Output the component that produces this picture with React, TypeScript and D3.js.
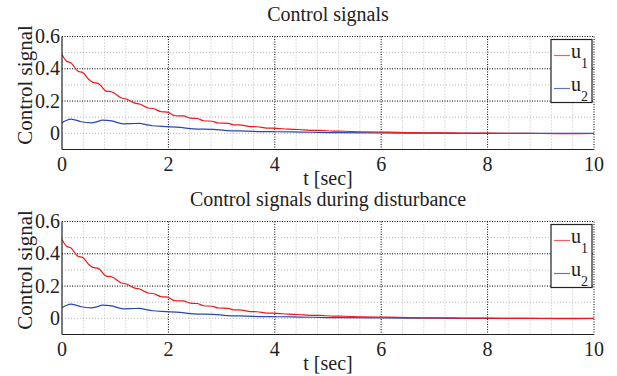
import React, { useEffect, useRef } from "react";
import * as d3 from "d3";

// values (t in sec)
const u1T = [0, 0.08, 0.17, 0.3, 0.39, 0.5, 0.58, 0.68, 0.83, 0.93, 1.12, 1.21, 1.37, 1.46, 1.62, 1.71, 1.87, 1.98, 2.13, 2.28, 2.41, 2.54, 2.66, 2.82, 2.94, 3.13, 3.22, 3.38, 3.54, 3.66, 3.85, 4.04, 4.25, 4.45, 4.65, 4.85, 5.1, 5.3, 5.6, 6.0, 6.5, 7.0, 7.5, 8.0, 8.5, 9.0, 9.5, 10];
const u1V = [0.488, 0.448, 0.436, 0.385, 0.377, 0.335, 0.316, 0.31, 0.262, 0.258, 0.219, 0.213, 0.187, 0.182, 0.157, 0.154, 0.134, 0.131, 0.109, 0.108, 0.094, 0.092, 0.078, 0.075, 0.064, 0.062, 0.053, 0.051, 0.042, 0.041, 0.033, 0.031, 0.026, 0.024, 0.019, 0.018, 0.014, 0.013, 0.01, 0.008, 0.005, 0.003, 0.002, 0.001, 0.0, -0.001, -0.002, -0.001];
const u2T = [0, 0.08, 0.17, 0.26, 0.36, 0.55, 0.65, 0.76, 0.93, 1.05, 1.15, 1.3, 1.46, 1.58, 1.7, 1.96, 2.22, 2.47, 2.85, 3.1, 3.47, 3.75, 4.04, 4.5, 5, 6, 7, 8, 9, 10];
const u2V = [0.066, 0.08, 0.088, 0.082, 0.072, 0.065, 0.071, 0.082, 0.077, 0.066, 0.059, 0.06, 0.062, 0.054, 0.047, 0.042, 0.037, 0.028, 0.025, 0.017, 0.014, 0.011, 0.01, 0.008, 0.005, 0.003, 0.001, 0.0, 0.0, 0.0];

const xTicks = [0, 2, 4, 6, 8, 10];
const yTicks = [0, 0.2, 0.4, 0.6];
const titles = ["Control signals", "Control signals during disturbance"];

const W = 617, H = 376;
const FONT = "'Liberation Serif', 'Times New Roman', serif";

const App = () => {
  const ref = useRef(null);

  useEffect(() => {
    const svg = d3.select(ref.current);
    svg.selectAll("*").remove();

    const x = d3.scaleLinear().domain([0, 10]).range([62, 594]);

    const draw = (title: string, top: number) => {
      const y = d3.scaleLinear().domain([-0.1, 0.6]).range([top + 113, top]);
      const g = svg.append("g");

      // minor grid
      const minorX = d3.range(0, 10.001, 0.4).filter((d) => Math.abs(d / 2 - Math.round(d / 2)) > 0.01);
      const minorY = [0, 0.1, 0.3, 0.5];
      g.selectAll(".mx")
        .data(minorX)
        .join("line")
        .attr("x1", (d) => x(d)).attr("x2", (d) => x(d))
        .attr("y1", y(0.6)).attr("y2", y(-0.1))
        .style("stroke", "#bbb").style("stroke-width", 1).style("stroke-dasharray", "1,2");
      g.selectAll(".my")
        .data(minorY)
        .join("line")
        .attr("x1", x(0)).attr("x2", x(10))
        .attr("y1", (d) => y(d)).attr("y2", (d) => y(d))
        .style("stroke", "#bbb").style("stroke-width", 1).style("stroke-dasharray", "1,2");

      // major grid
      g.selectAll(".gx")
        .data(xTicks.slice(1))
        .join("line")
        .attr("x1", (d) => x(d)).attr("x2", (d) => x(d))
        .attr("y1", y(0.6)).attr("y2", y(-0.1))
        .style("stroke", "#000").style("stroke-width", 1).style("stroke-dasharray", "1,1.5");
      g.selectAll(".gy")
        .data(yTicks.slice(1))
        .join("line")
        .attr("x1", x(0)).attr("x2", x(10))
        .attr("y1", (d) => y(d)).attr("y2", (d) => y(d))
        .style("stroke", "#000").style("stroke-width", 1).style("stroke-dasharray", "1,1.5");

      // lines
      const line = d3.line<[number, number]>()
        .x((d) => x(d[0]))
        .y((d) => y(d[1]))
        .curve(d3.curveMonotoneX);
      g.append("path")
        .attr("d", line(u2T.map((t, i) => [t, u2V[i]])))
        .style("fill", "none").style("stroke", "#2848b0").style("stroke-width", 1.2);
      g.append("path")
        .attr("d", line(u1T.map((t, i) => [t, u1V[i]])))
        .style("fill", "none").style("stroke", "#f01818").style("stroke-width", 1.2);

      // axes
      g.append("line")
        .attr("x1", x(0)).attr("x2", x(0)).attr("y1", y(0.6)).attr("y2", y(-0.1))
        .style("stroke", "#222").style("stroke-width", 1.2);
      g.append("line")
        .attr("x1", x(0)).attr("x2", x(10)).attr("y1", y(-0.1)).attr("y2", y(-0.1))
        .style("stroke", "#222").style("stroke-width", 1.2);

      const text = (sel: any) => sel.style("font-family", FONT).style("fill", "#222");

      g.selectAll(".xt")
        .data(xTicks)
        .join("text")
        .call(text)
        .attr("x", (d) => x(d))
        .attr("y", y(-0.1) + 21)
        .attr("text-anchor", "middle")
        .style("font-size", "20px")
        .text((d) => d);
      g.selectAll(".yt")
        .data(yTicks)
        .join("text")
        .call(text)
        .attr("x", x(0) - 2)
        .attr("y", (d) => y(d) + 6.5)
        .attr("text-anchor", "end")
        .style("font-size", "20px")
        .text((d) => (d === 0 ? "0" : d.toFixed(1)));

      g.append("text").call(text)
        .attr("x", (x(0) + x(10)) / 2).attr("y", top - 16)
        .attr("text-anchor", "middle").style("font-size", "20px")
        .text(title);
      g.append("text").call(text)
        .attr("x", (x(0) + x(10)) / 2).attr("y", y(-0.1) + 35)
        .attr("text-anchor", "middle").style("font-size", "20px")
        .text("t [sec]");
      g.append("text").call(text)
        .attr("transform", `translate(32,${(y(0.6) + y(-0.1)) / 2 - 8}) rotate(-90)`)
        .attr("text-anchor", "middle").style("font-size", "21px")
        .text("Control signal");

      // legend
      const lg = g.append("g").attr("transform", `translate(551,${top + 3})`);
      lg.append("rect")
        .attr("width", 41).attr("height", 63)
        .style("fill", "#fff").style("stroke", "#222").style("stroke-width", 1.2);
      const items = [["1", "#f06060"], ["2", "#5a78c0"]];
      items.forEach((it, i) => {
        const cy = 16 + i * 33;
        lg.append("line").attr("x1", 3).attr("x2", 19).attr("y1", cy).attr("y2", cy)
          .style("stroke", it[1]).style("stroke-width", 1.2);
        const t = lg.append("text").call(text).attr("x", 20).attr("y", cy + 2).style("font-size", "20px");
        t.append("tspan").text("u");
        t.append("tspan").attr("dy", 10).style("font-size", "14px").text(it[0]);
      });
    };

    draw(titles[0], 36.5);
    draw(titles[1], 221.5);
  }, []);

  return (
    <svg
      ref={ref}
      width={W}
      height={H}
      style={{ position: "absolute", left: 0, top: 0, background: "#fff" }}
    ></svg>
  );
};

export default App;
